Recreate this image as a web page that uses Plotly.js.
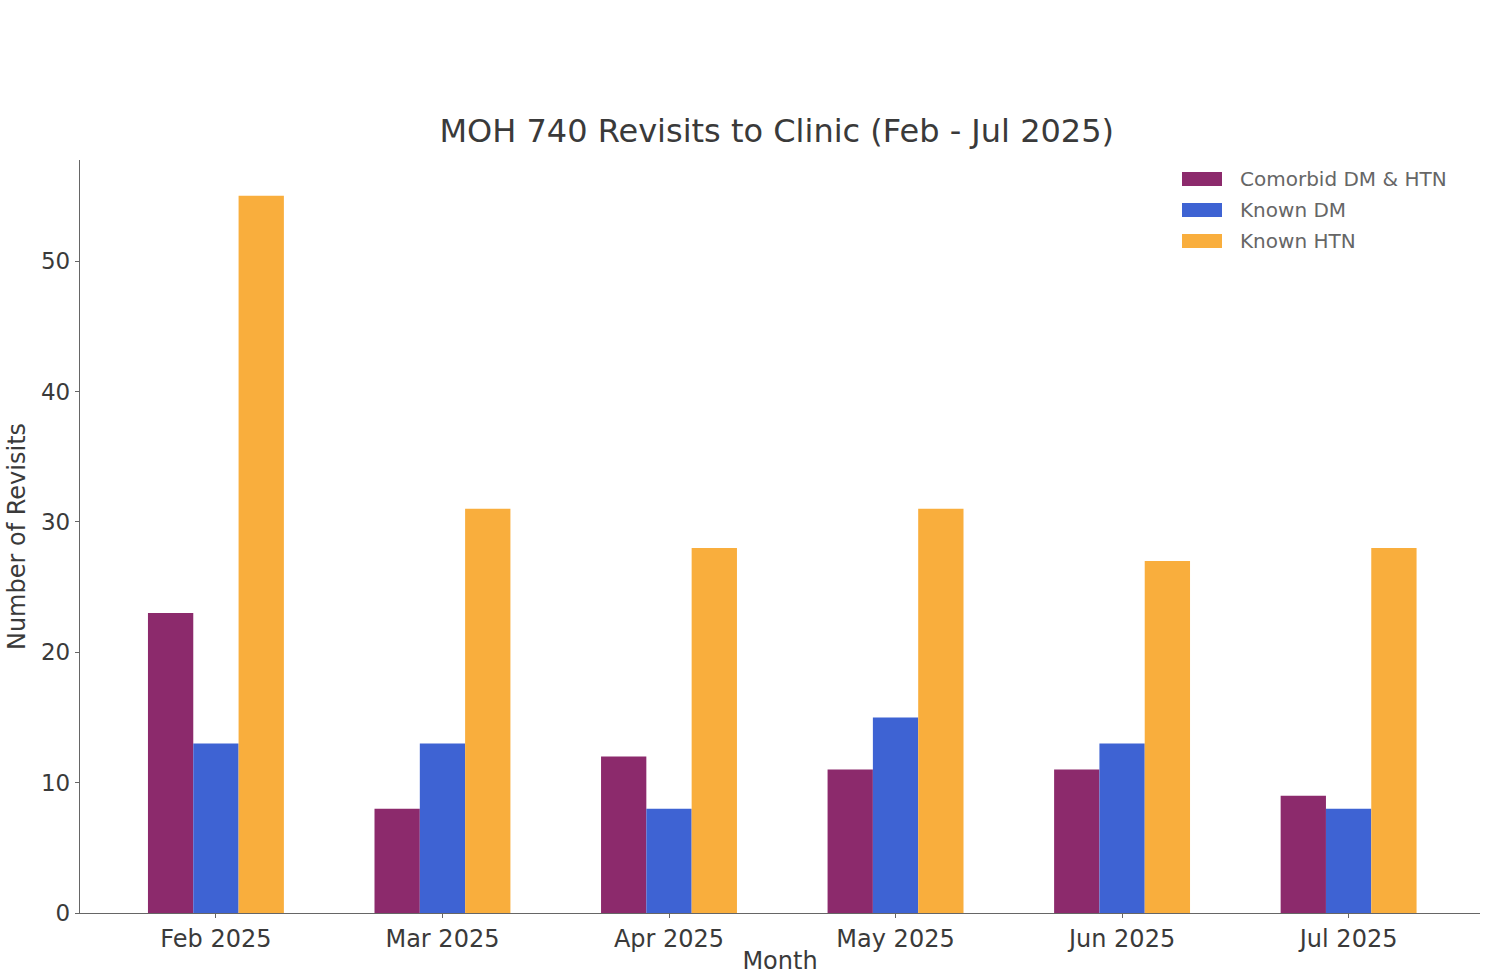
<!DOCTYPE html>
<html>
<head>
<meta charset="utf-8">
<script src="https://cdn.plot.ly/plotly-3.0.1.min.js"></script>
<style>html,body{margin:0;padding:0;background:#fff;}#chart{width:1488px;height:976px;}</style>
</head>
<body>
<div id="chart"></div>
<script>
const months = ["Feb 2025", "Mar 2025", "Apr 2025", "May 2025", "Jun 2025", "Jul 2025"];
const seriesNames = ["Comorbid DM & HTN", "Known DM", "Known HTN"];
const comorbid = [23, 8, 12, 11, 11, 9];
const knownDM = [13, 13, 8, 15, 13, 8];
const knownHTN = [55, 31, 28, 31, 27, 28];
const colors = ["#8c2a6c", "#3e63d3", "#f9ae3d"];

const seriesValues = [comorbid, knownDM, knownHTN];
const font = "DejaVu Sans, sans-serif";

const traces = seriesValues.map((vals, i) => ({
  type: "bar",
  name: seriesNames[i],
  x: months,
  y: vals,
  marker: {color: colors[i], line: {width: 0}},
  hoverinfo: "x+y+name"
}));

// custom legend (matplotlib-style wide swatches)
const shapes = [];
const annotations = [];
seriesNames.forEach((n, i) => {
  const yc = 179 + i * 31;
  shapes.push({
    type: "rect", xref: "paper", yref: "paper",
    x0: (1182 - 80) / 1400, x1: (1222 - 80) / 1400,
    y0: (913 - (yc + 7)) / 753, y1: (913 - (yc - 7)) / 753,
    fillcolor: colors[i], line: {width: 0}
  });
  annotations.push({
    xref: "paper", yref: "paper",
    x: (1238 - 80) / 1400, y: (913 - yc) / 753,
    xanchor: "left", yanchor: "middle",
    text: n, showarrow: false,
    font: {family: font, size: 20, color: "#666"}
  });
});

const layout = {
  width: 1488, height: 976,
  paper_bgcolor: "#fff", plot_bgcolor: "#fff",
  margin: {l: 80, r: 8, t: 160, b: 63},
  showlegend: false,
  barmode: "group",
  bargap: 0.4,
  bargroupgap: 0,
  title: {
    text: "MOH 740 Revisits to Clinic (Feb - Jul 2025)",
    font: {family: font, size: 32, color: "#3a3a3a"},
    x: 0.522, xanchor: "center", y: 0.866, yanchor: "middle"
  },
  xaxis: {
    type: "category",
    range: [-0.6, 5.58],
    showline: true, linecolor: "#666", linewidth: 1.2,
    ticks: "outside", ticklen: 4, tickcolor: "#666",
    showgrid: false, zeroline: false,
    tickfont: {family: font, size: 24, color: "#3a3a3a"},
    title: {text: "Month", font: {family: font, size: 24, color: "#3a3a3a"}, standoff: 0}
  },
  yaxis: {
    range: [0, 57.75],
    tickvals: [0, 10, 20, 30, 40, 50],
    showline: true, linecolor: "#666", linewidth: 1.2,
    ticks: "outside", ticklen: 4, tickcolor: "#666",
    showgrid: false, zeroline: false,
    tickfont: {family: font, size: 23, color: "#3a3a3a"},
    title: {text: "Number of Revisits", font: {family: font, size: 24, color: "#3a3a3a"}, standoff: 8}
  },
  shapes: shapes,
  annotations: annotations
};

Plotly.newPlot("chart", traces, layout, {displayModeBar: false, staticPlot: true});
</script>
</body>
</html>
